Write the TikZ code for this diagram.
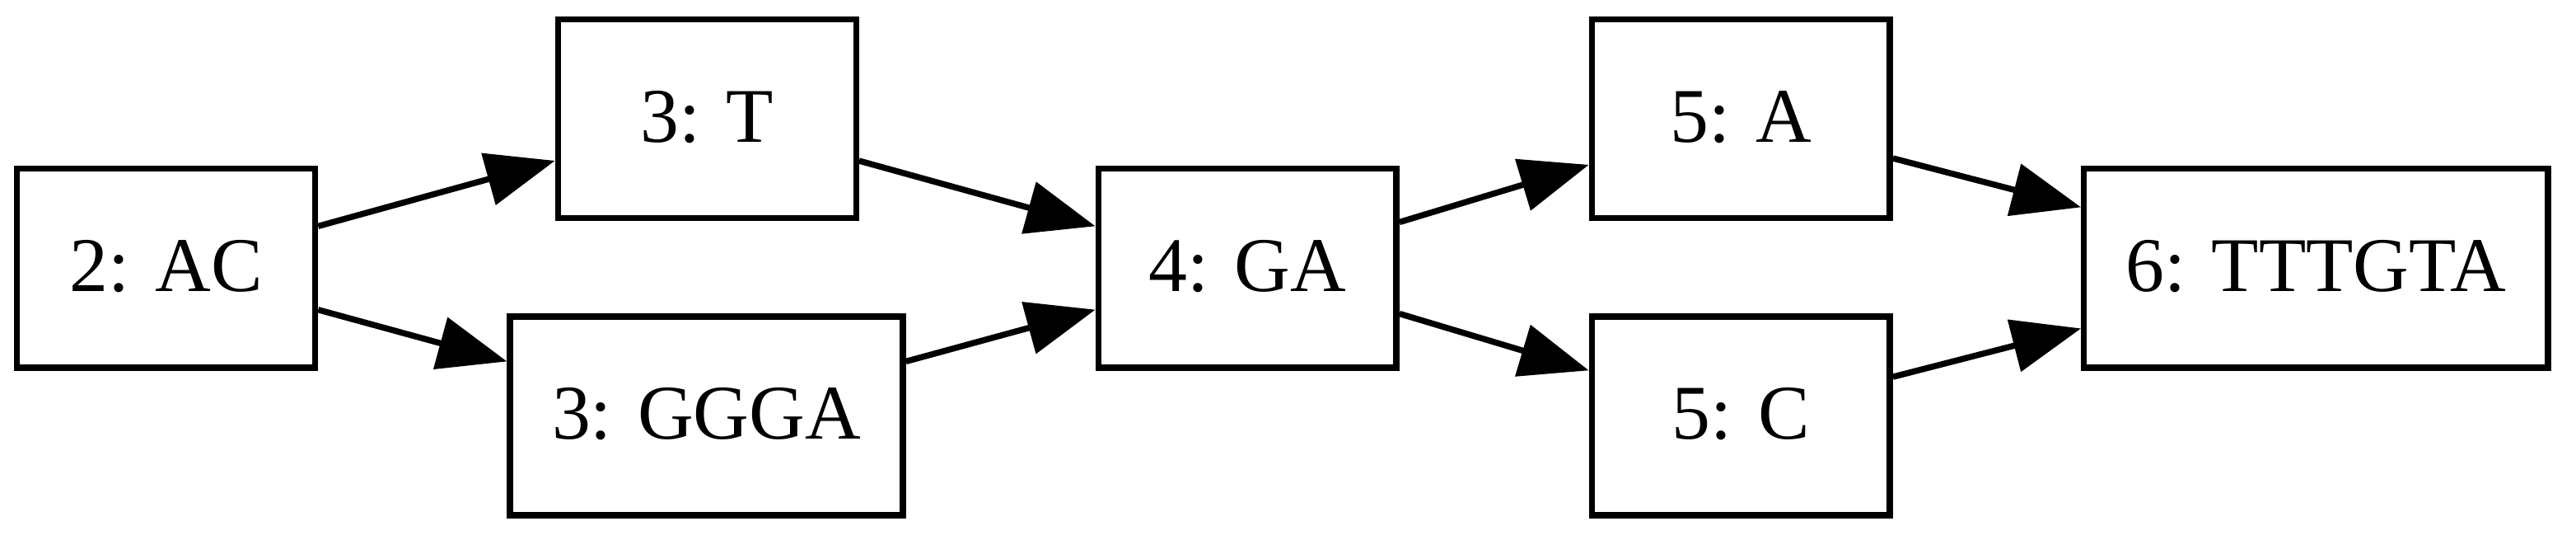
\documentclass[tikz,border=0pt]{standalone}
\usepackage{fontspec}
\setmainfont{Liberation Serif}
\usetikzlibrary{arrows.meta}
\begin{document}
\begin{tikzpicture}[
  x=1pt, y=1pt,
  every node/.style={rectangle, draw, line width=1.1pt, minimum width=54pt,
    minimum height=36pt, inner xsep=7.6pt, text height=8.4pt, text depth=0pt,
    font=\fontsize{14}{16}\selectfont},
  link/.style={draw, line width=1.1pt, -{Triangle[length=12.5pt, width=9.5pt]}}
]
\useasboundingbox (0,0) rectangle (466.7,100.15);
\node (ac) at (30.1,51.6) {2: AC};
\node (t) at (128.1,78.65) {3: T};
\node (ggga) at (128.0,24.85) {3: GGGA};
\node (ga) at (226.0,51.6) {4: GA};
\node (a) at (315.4,78.65) {5: A};
\node (c) at (315.4,24.85) {5: C};
\node (tttgta) at (419.6,51.6) {6: TTTGTA};
\draw[link] (ac) -- (t);
\draw[link] (ac) -- (ggga);
\draw[link] (t) -- (ga);
\draw[link] (ggga) -- (ga);
\draw[link] (ga) -- (a);
\draw[link] (ga) -- (c);
\draw[link] (a) -- (tttgta);
\draw[link] (c) -- (tttgta);
\end{tikzpicture}
\end{document}
